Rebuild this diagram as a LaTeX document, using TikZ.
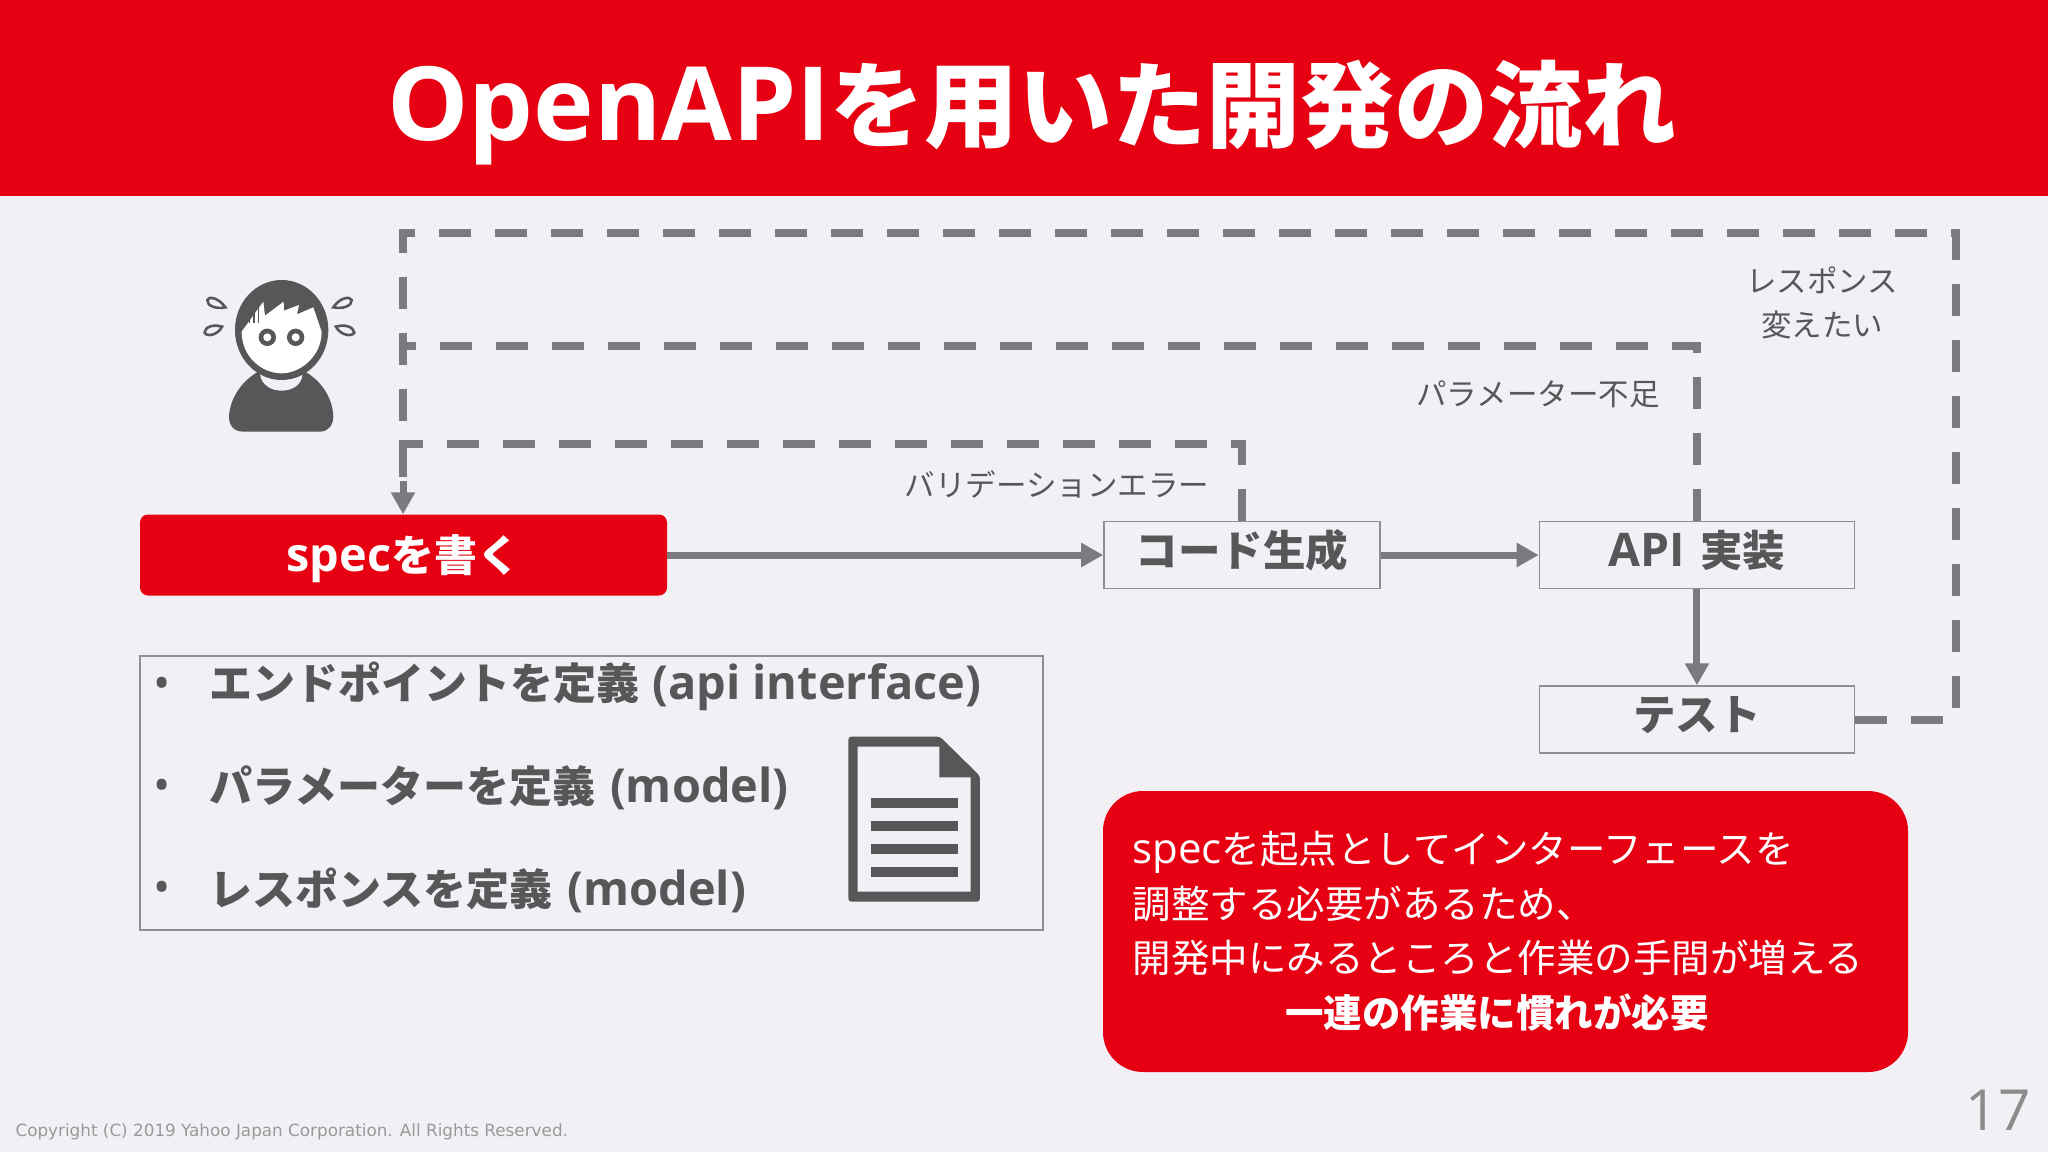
\documentclass[tikz,border=0pt]{standalone}
\usepackage{fontspec}
\setmainfont{Noto Sans CJK JP}
\newfontfamily\latfont[Scale=1.09]{Open Sans}
\newfontfamily\copyfont{DejaVu Sans}
\usetikzlibrary{arrows.meta,positioning}
\definecolor{yred}{HTML}{E60012}
\definecolor{ybg}{HTML}{F2F0F4}
\definecolor{ytext}{HTML}{595659}
\definecolor{yline}{HTML}{7C7A7E}
\newcommand{\lat}[1]{{\latfont #1}}
\newcommand{\boxtxt}[2]{\raisebox{#1}[0pt][0pt]{#2}}
\tikzset{
  titlelbl/.style={font=\fontsize{94}{110}\selectfont\bfseries, text=white},
  specbox/.style={rectangle, rounded corners=8pt, fill=yred, text=white, minimum width=527pt,
                  minimum height=81pt, font=\fontsize{43}{50}\selectfont\bfseries},
  stepbox/.style={rectangle, draw=yline!85, line width=1.5pt, text=ytext, minimum height=67pt,
                  font=\fontsize{42.5}{50}\selectfont\bfseries},
  lbl/.style={font=\fontsize{30.5}{44}\selectfont, text=ytext, align=center},
  item/.style={font=\fontsize{43}{50}\selectfont\bfseries, text=ytext, anchor=west},
  calltxt/.style={font=\fontsize{38.5}{54.5}\selectfont, text=white, align=left},
  arrow/.style={-{Triangle[length=22pt,width=23pt]}, line width=7pt, yline},
  dashline/.style={line width=8pt, yline, dash pattern=on 32pt off 24pt},
  drop/.style={draw=ytext, line width=2.6pt, fill=ybg},
  icon/.style={fill=ytext, draw=none}
}
\begin{document}
\begin{tikzpicture}[x=1pt,y=-1pt]
  \useasboundingbox (0,0) rectangle (2048,1152);
  \fill[ybg] (0,0) rectangle (2048,1152);
  \fill[yred] (0,0) rectangle (2048,196);
  \node[titlelbl] (title) at (1032,113) {\lat{OpenAPI}を用いた開発の流れ};

  \node[specbox] (spec) at (403.5,555) {\boxtxt{-16pt}{\lat{spec}を書く}};
  \node[stepbox, minimum width=276pt, right=436pt of spec] (gen) {\boxtxt{-11pt}{コード生成}};
  \node[stepbox, minimum width=315pt, right=158pt of gen] (api) {\boxtxt{-11pt}{\lat{API}\hspace{5pt} 実装}};
  \node[stepbox, minimum width=315pt, below=96pt of api] (test) {\boxtxt{-11pt}{テスト}};

  \draw[arrow] (spec) -- (gen);
  \draw[arrow] (gen) -- (api);
  \draw[arrow] (api) -- (test);

  % feedback paths
  \coordinate (topr) at (1956,233);
  \coordinate (topl) at (403,233);
  \coordinate (midl) at (403,346);
  \coordinate (lowl) at (403,444);
  \coordinate (lowe) at (403,477);
  \coordinate (stub) at (403,481);
  \draw[dashline] (test.east) -| (topr) -- (topl) -- (lowe);
  \draw[dashline] (api.north) |- (midl);
  \draw[dashline] (gen.north) |- (lowl) -- (lowe);
  \draw[arrow] (stub) -- (spec.north -| stub);

  \node[lbl] (lval) at (1057,484) {バリデーションエラー};
  \node[lbl] (lpar) at (1538,394) {パラメーター不足};
  \node[lbl] (lres) at (1822,303) {レスポンス\\変えたい};

  % spec list
  \node[draw=yline!85, line width=1.5pt, minimum width=903pt, minimum height=274pt] (list) at (591.5,793) {};
  \foreach \y/\t [count=\i] in {686/{エンドポイントを定義\hspace{3pt} \lat{(api interface)}},
                                788/{パラメーターを定義\hspace{5pt} \lat{(model)}},
                                890/{レスポンスを定義\hspace{5pt} \lat{(model)}}} {
    \node[item, font=\fontsize{42}{46}\selectfont] (bul\i) at (150,\y+2) {\lat{•}};
    \node[item] (item\i) at (206,\y) {\t};
  }

  % callout
  \node[rectangle, rounded corners=40pt, fill=yred, minimum width=805pt, minimum height=281pt] (call) at (1505.5,931.5) {};
  \node[calltxt, anchor=north west] (calltext) at (1129,828) {\lat{spec}を起点としてインターフェースを\\調整する必要があるため、\\開発中にみるところと作業の手間が増える};
  \node[calltxt, font=\fontsize{38.5}{54.5}\selectfont\bfseries] (callbold) at (1497,1013) {一連の作業に慣れが必要};

  \node[font=\copyfont\fontsize{16.8}{20}\selectfont, text=black!40, anchor=west] (copy) at (12,1132)
    {Copyright (C) 2019 Yahoo Japan Corporation. All Rights Reserved.};
  \node[font=\latfont\fontsize{52}{60}\selectfont, text=black!45] (page) at (1998,1110) {17};

  % person
  \begin{scope}[shift={(150,220)},x=0.3333pt,y=-0.3333pt]
    \fill[icon] (280,635) .. controls (250,635) and (237,615) .. (237,590)
      .. controls (240,530) and (280,480) .. (325,455) -- (465,455)
      .. controls (510,480) and (548,530) .. (550,590)
      .. controls (550,615) and (535,635) .. (510,635) -- cycle;
    \fill[ybg] (330,462) .. controls (335,500) and (370,512) .. (395,512)
      .. controls (420,512) and (455,500) .. (458,462) -- cycle;
    \fill[icon] (395,330) ellipse (46.7pt and 50pt);
    \fill[white] (275,335) -- (340,245) -- (345,287) -- (401,245) -- (402,272) -- (447,255) -- (441,283) -- (490,262)
      -- (515,335) .. controls (515,410) and (450,460) .. (395,460) .. controls (335,460) and (275,410) .. (275,335) -- cycle;
    \foreach \sx/\sy in {298/283,312/268,326/254}
      \draw[ytext, line width=1.6pt] (\sx,308) -- (\sx,\sy);
    \foreach \ex in {352,437} {
      \fill[icon] (\ex,352) circle (8.7pt);
      \fill[white] (\ex,352) circle (4pt);
    }
    \draw[drop] (226,262) .. controls (205,232) and (175,228) .. (172,240) .. controls (170,258) and (200,268) .. cycle;
    \draw[drop] (216,320) .. controls (190,312) and (165,320) .. (164,338) .. controls (170,352) and (205,345) .. cycle;
    \draw[drop] (550,262) .. controls (570,232) and (600,228) .. (605,240) .. controls (607,258) and (577,268) .. cycle;
    \draw[drop] (558,320) .. controls (585,312) and (610,320) .. (613,338) .. controls (605,352) and (570,345) .. cycle;
  \end{scope}

  % document
  \begin{scope}[shift={(780,700)},x=0.3333pt,y=-0.3333pt]
    \fill[icon, rounded corners=3pt] (205,110) -- (480,110) -- (600,228) -- (600,605) -- (205,605) -- cycle;
    \fill[ybg] (233,140) -- (478,140) -- (478,232) -- (572,232) -- (572,575) -- (233,575) -- cycle;
    \foreach \ly in {293,362,431,500}
      \fill[icon] (272,\ly) rectangle (533,\ly+30);
  \end{scope}
\end{tikzpicture}
\end{document}
